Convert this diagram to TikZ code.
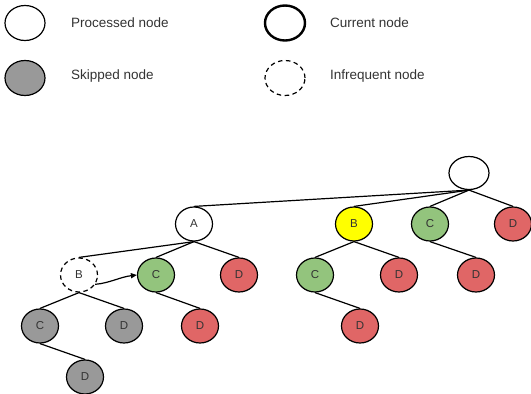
\documentclass[tikz,border=0pt]{standalone}
\usepackage{fontspec}
\setmainfont{Liberation Sans}
\usetikzlibrary{shapes.geometric,arrows.meta}
\definecolor{pgreen}{HTML}{93C47D}
\definecolor{pred}{HTML}{E06666}
\definecolor{pgray}{HTML}{999999}
\definecolor{pyellow}{HTML}{FFFF00}
\definecolor{ptext}{HTML}{333333}
\tikzset{
  tnode/.style={ellipse, draw=black, line width=1.2pt, minimum width=37pt, minimum height=34pt, inner sep=0pt, font=\fontsize{11.5}{13}\selectfont, text=ptext},
  proc/.style={tnode, fill=white},
  skip/.style={tnode, fill=pgray},
  curr/.style={tnode, line width=2.4pt, fill=white},
  infreq/.style={tnode, dashed, dash pattern=on 4.5pt off 3.5pt, fill=white},
  good/.style={tnode, fill=pgreen},
  bad/.style={tnode, fill=pred},
  hot/.style={tnode, fill=pyellow},
  lgtext/.style={anchor=west, font=\fontsize{13.5}{15}\selectfont, text=ptext, inner sep=0pt},
  edge/.style={line width=1.2pt, draw=black}
}
\begin{document}
\begin{tikzpicture}[x=1pt,y=-1pt]
\useasboundingbox (0,0) rectangle (531,394);
% legend
\node[proc, minimum width=40pt, minimum height=35pt] (l1) at (25,23) {};
\node[lgtext] (t1) at (71,23) {Processed node};
\node[curr, minimum width=40pt, minimum height=35pt] (l2) at (285,23) {};
\node[lgtext] (t2) at (330,23) {Current node};
\node[skip, minimum width=40pt, minimum height=35pt] (l3) at (25,78) {};
\node[lgtext] (t3) at (71,76) {Skipped node};
\node[infreq, minimum width=40pt, minimum height=35pt] (l4) at (285,78) {};
\node[lgtext] (t4) at (330,76) {Infrequent node};
% tree
\node[proc, minimum width=40pt, minimum height=33pt] (root) at (469,173) {};
\node[proc] (A) at (194,224) {A};
\node[hot] (B) at (354,224) {B};
\node[good] (C) at (430,224) {C};
\node[bad] (D) at (513,224) {D};
\node[infreq] (AB) at (79,275) {B};
\node[good] (AC) at (156,275) {C};
\node[bad] (AD) at (239,275) {D};
\node[good] (BC) at (315,275) {C};
\node[bad] (BD) at (399,275) {D};
\node[bad] (CD) at (476,275) {D};
\node[skip] (ABC) at (40,326) {C};
\node[skip] (ABD) at (124,326) {D};
\node[bad] (ACD) at (200,326) {D};
\node[bad] (BCD) at (360,326) {D};
\node[skip] (ABCD) at (85,377) {D};
% edges
\foreach \p/\c in {root/A, root/B, root/C, root/D, A/AB, A/AC, A/AD, B/BC, B/BD, C/CD, AB/ABC, AB/ABD, AC/ACD, BC/BCD, ABC/ABCD}
  \draw[edge] (\p.south) -- (\c.north);
\draw[edge, -{Triangle[length=6pt, width=5pt]}] (AB.-30) .. controls (110,283) and (120,277) .. (AC.west);
\end{tikzpicture}
\end{document}
